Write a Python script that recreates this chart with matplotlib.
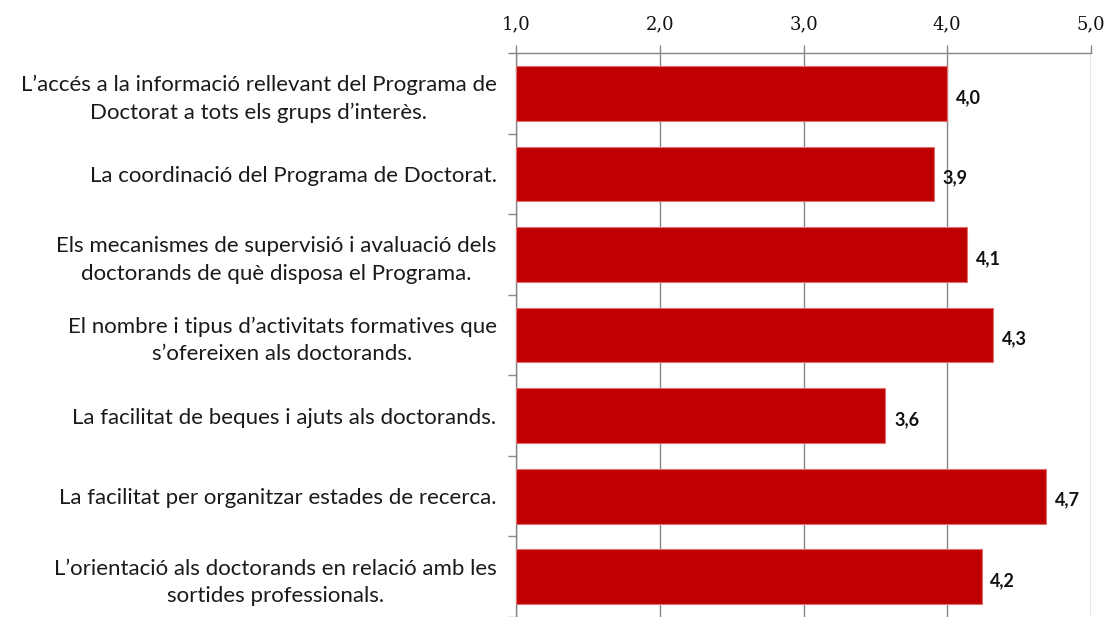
import matplotlib.pyplot as plt
from matplotlib.ticker import FixedLocator

categories = [
    "L\u2019accés a la informació rellevant del Programa de\nDoctorat a tots els grups d\u2019interès.",
    "La coordinació del Programa de Doctorat.",
    "Els mecanismes de supervisió i avaluació dels\ndoctorands de què disposa el Programa.",
    "El nombre i tipus d\u2019activitats formatives que\ns\u2019ofereixen als doctorands.",
    "La facilitat de beques i ajuts als doctorands.",
    "La facilitat per organitzar estades de recerca.",
    "L\u2019orientació als doctorands en relació amb les\nsortides professionals.",
]
values = [4.00, 3.91, 4.14, 4.32, 3.57, 4.69, 4.24]
value_labels = ["4,0", "3,9", "4,1", "4,3", "3,6", "4,7", "4,2"]
ticks = [1, 2, 3, 4, 5]
tick_labels = ["1,0", "2,0", "3,0", "4,0", "5,0"]

fig = plt.figure(figsize=(11.06, 6.17), dpi=100)
ax = fig.add_axes([0.4666, 0.0, 0.5198, 0.914])

y = list(range(len(categories)))
ax.barh(y, [v - 1 for v in values], left=1, height=0.68,
        color="#C00000", edgecolor="#E07070", linewidth=0.8, zorder=3)

for yi, v, lab in zip(y, values, value_labels):
    ax.text(v + 0.06, yi + 0.05, lab, va="center", ha="left",
            fontsize=13, fontweight="bold", family="Lato", color="#111111")

ax.set_xlim(1, 5)
ax.set_ylim(len(categories) - 0.5, -0.5)

ax.xaxis.tick_top()
ax.set_xticks(ticks)
ax.set_xticklabels(tick_labels, family="DejaVu Serif", fontsize=13, color="#111111")
ax.tick_params(axis="x", length=6, width=1, color="#868686", pad=8)
ax.grid(axis="x", color="#868686", linewidth=1, zorder=0)

ax.yaxis.set_major_locator(FixedLocator([i - 0.5 for i in range(len(categories) + 1)]))
ax.yaxis.set_major_formatter(plt.NullFormatter())
ax.yaxis.set_minor_locator(FixedLocator(y))
ax.set_yticklabels(categories, minor=True, family="Lato", fontsize=16,
                   color="#1a1a1a", multialignment="center", linespacing=1.45)
ax.tick_params(axis="y", which="major", length=6, width=1, color="#868686")
ax.tick_params(axis="y", which="minor", length=0, pad=14)

for side in ["bottom", "right"]:
    ax.spines[side].set_visible(False)
for side in ["top", "left"]:
    ax.spines[side].set_color("#868686")
    ax.spines[side].set_linewidth(1)

fig.savefig("out.png", dpi=100)
